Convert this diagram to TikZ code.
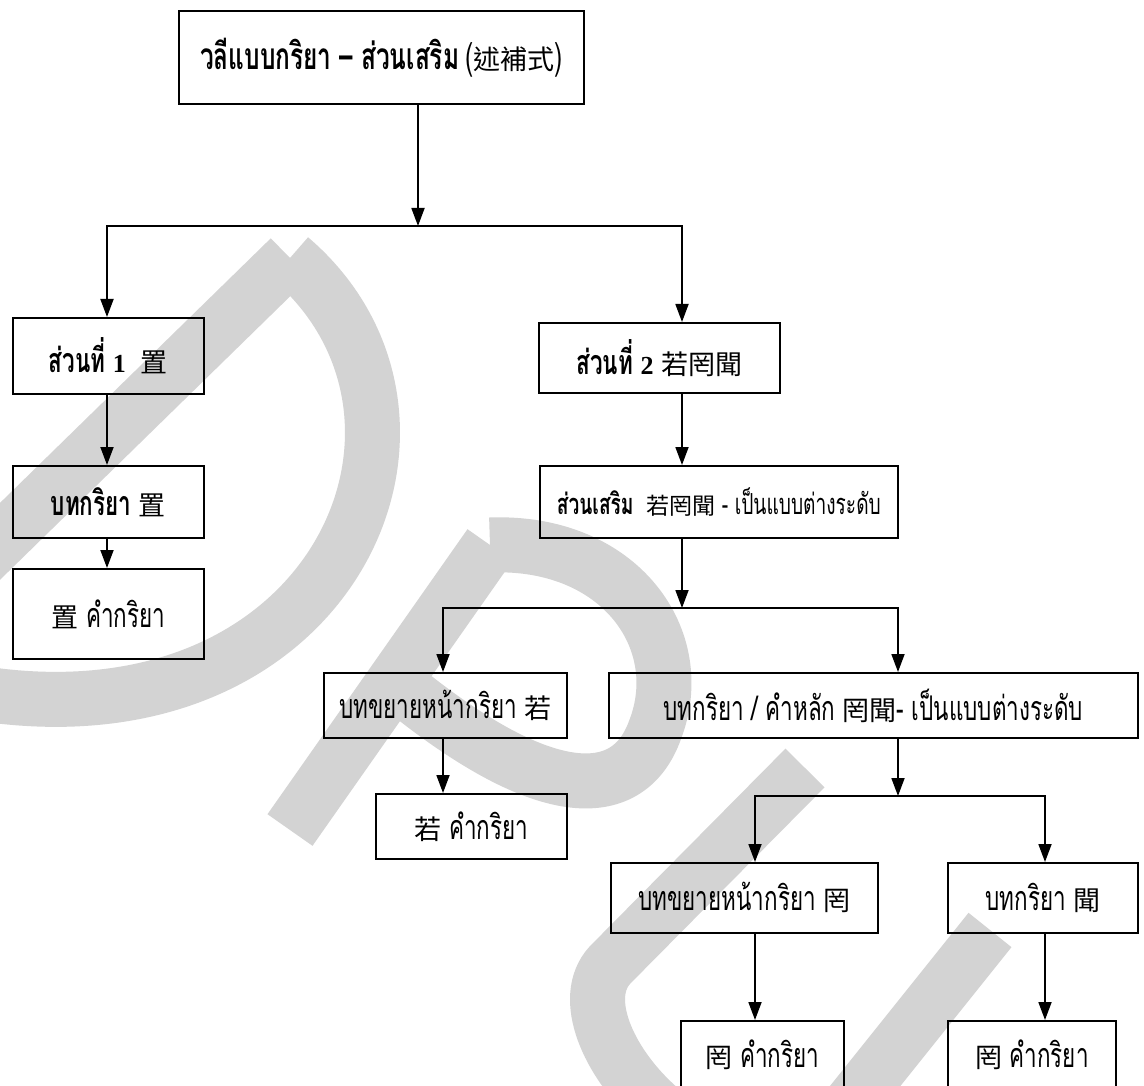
\documentclass[tikz,border=0pt]{standalone}
\usepackage{fontspec}
\usetikzlibrary{arrows.meta}
\setmainfont[Script=Thai,FakeStretch=0.66]{Loma}
\newfontfamily\cjk{Noto Sans CJK TC}
\newfontfamily\lat{Liberation Serif}
\newcommand\zh[1]{{\cjk\fontsize{27}{30}\selectfont #1}}
\newcommand\zhs[1]{{\cjk\fontsize{23}{26}\selectfont #1}}
\newcommand\num[1]{{\lat\bfseries\fontsize{26}{30}\selectfont #1}}
\definecolor{wm}{RGB}{211,211,211}
\begin{document}
\begin{tikzpicture}[x=1pt,y=-1pt,
  box/.style={draw, line width=1.8pt, anchor=north west, inner sep=0pt,
    font=\fontsize{34}{38}\selectfont},
  smalltext/.style={font=\fontsize{29}{32}\selectfont},
  titletext/.style={font=\fontsize{37}{40}\selectfont},
  arr/.style={line width=1.8pt, -{Triangle[length=18pt,width=13pt]}},
  wmark/.style={draw=wm, line width=55pt, line cap=butt, line join=miter}]
\useasboundingbox (0,0) rectangle (1144,1086);
\fill[white] (0,0) rectangle (1144,1086);

% watermark letters D, P, U
\draw[wmark] (-60,600) -- (290,258);
\draw[wmark] (290,258) .. controls (480,420) and (330,760) .. (-40,690);
\draw[wmark] (290,830) -- (490,545);
\draw[wmark] (490,545) .. controls (620,540) and (690,640) .. (655,730)
  .. controls (630,800) and (550,810) .. (395,682);
\draw[wmark] (805,768) -- (610,965) .. controls (550,1030) and (720,1220) .. (830,1130) -- (990,930);

% boxes
\node[box, titletext, minimum width=405, minimum height=93] (top) at (178,10)
  {\textbf{วลีแบบกริยา – ส่วนเสริม}\,(\zh{述補式})};
\node[box, minimum width=191, minimum height=76] (l1) at (12,317)
  {\textbf{ส่วนที่ \num{1}}\ \ \zh{置}};
\node[box, minimum width=191, minimum height=72] (l2) at (12,465)
  {\textbf{บทกริยา}\ \zh{置}};
\node[box, minimum width=191, minimum height=90] (l3) at (12,568)
  {\zh{置}\ คำกริยา};
\node[box, minimum width=241, minimum height=70] (r1) at (538,322)
  {\textbf{ส่วนที่ \num{2}}\ \zh{若罔聞}};
\node[box, smalltext, minimum width=358, minimum height=72] (r2) at (539,465)
  {\textbf{ส่วนเสริม}\ \ \zhs{若罔聞} - เป็นแบบต่างระดับ};
\node[box, minimum width=243, minimum height=65] (r3a) at (323,672)
  {บทขยายหน้ากริยา \zh{若}};
\node[box, minimum width=529, minimum height=65] (r3b) at (608,672)
  {บทกริยา / คำหลัก \zh{罔聞}- เป็นแบบต่างระดับ};
\node[box, minimum width=191, minimum height=65] (r4a) at (375,793)
  {\zh{若}\ คำกริยา};
\node[box, minimum width=267, minimum height=70] (r4b) at (610,862)
  {บทขยายหน้ากริยา \zh{罔}};
\node[box, minimum width=190, minimum height=70] (r4c) at (947,862)
  {บทกริยา \zh{聞}};
\node[box, minimum width=163, minimum height=68] (r5b) at (680,1020)
  {\zh{罔}\ คำกริยา};
\node[box, minimum width=168, minimum height=68] (r5c) at (947,1020)
  {\zh{罔}\ คำกริยา};

% junctions and connector columns
\coordinate (j1) at (418,226);
\coordinate (cL) at (107,0);
\coordinate (cR) at (682,0);
\coordinate (j2) at (682,608);
\coordinate (cA) at (443,0);
\coordinate (cB) at (898,0);
\coordinate (j3) at (898,796);
\coordinate (cC) at (755,0);
\coordinate (cD) at (1045,0);

% connectors
\draw[arr] (top.south -| j1) -- (j1);
\draw[arr] (j1) -| (l1.north -| cL);
\draw[arr] (j1) -| (r1.north -| cR);
\draw[arr] (l1.south -| cL) -- (l2.north -| cL);
\draw[arr] (l2.south -| cL) -- (l3.north -| cL);
\draw[arr] (r1.south -| cR) -- (r2.north -| cR);
\draw[arr] (r2.south -| cR) -- (j2);
\draw[arr] (j2) -| (r3a.north -| cA);
\draw[arr] (j2) -| (r3b.north -| cB);
\draw[arr] (r3a.south -| cA) -- (r4a.north -| cA);
\draw[arr] (r3b.south -| cB) -- (j3);
\draw[arr] (j3) -| (r4b.north -| cC);
\draw[arr] (j3) -| (r4c.north -| cD);
\draw[arr] (r4b.south -| cC) -- (r5b.north -| cC);
\draw[arr] (r4c.south -| cD) -- (r5c.north -| cD);
\end{tikzpicture}
\end{document}
